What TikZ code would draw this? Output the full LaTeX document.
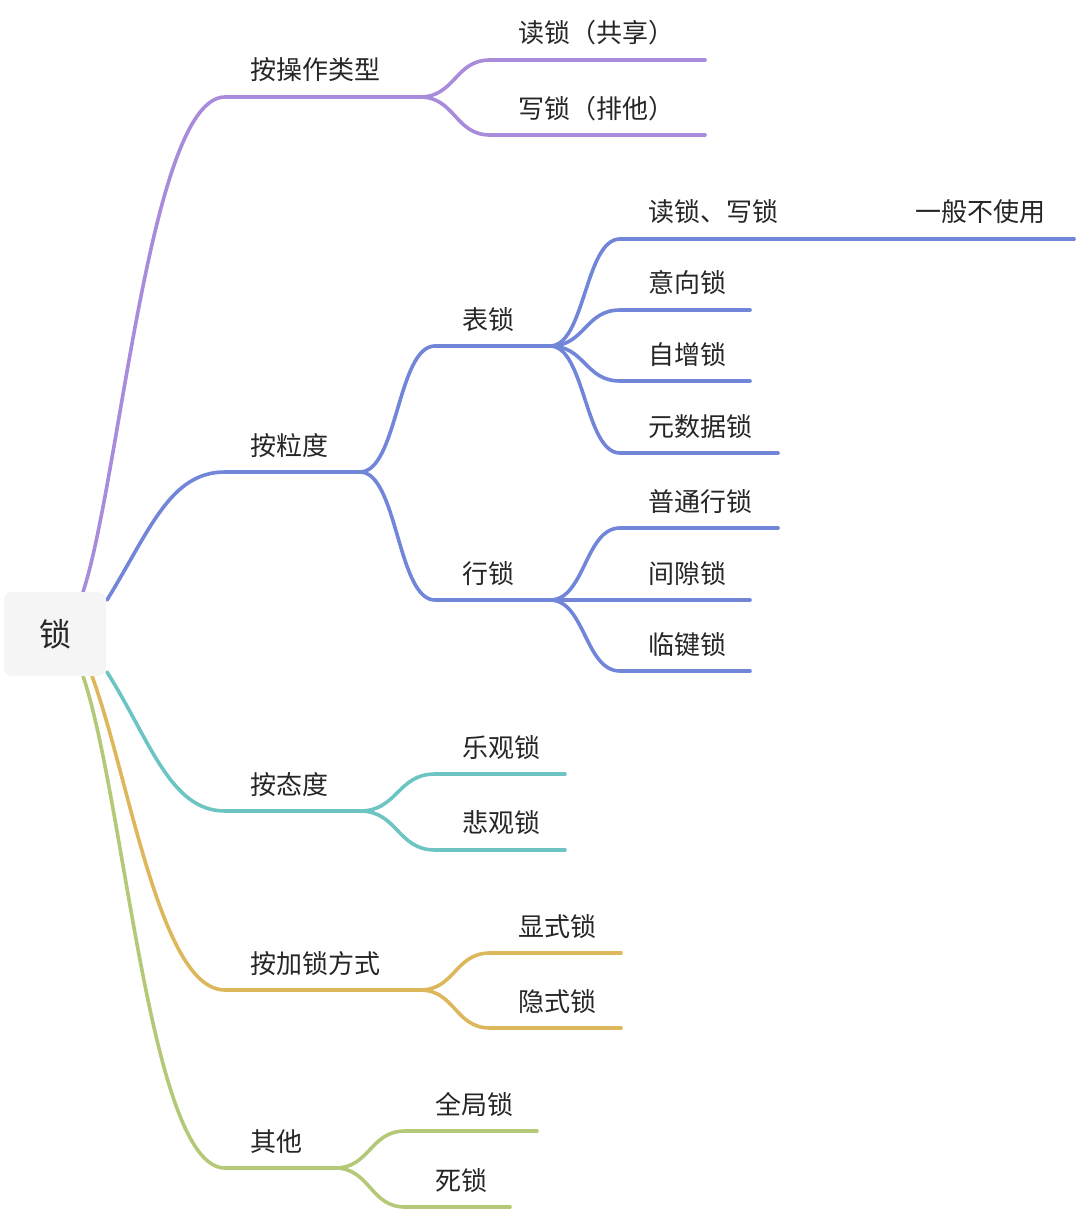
\documentclass[tikz,border=0pt]{standalone}
\usepackage{fontspec}
\setmainfont{Noto Sans CJK SC}
\begin{document}
\begin{tikzpicture}[x=1pt,y=-1pt,line cap=round,
  br/.style={line width=3.6pt},
  lbl/.style={anchor=base west,inner sep=0pt,font=\fontsize{26}{30}\selectfont,text=black!85}]
\definecolor{cp}{HTML}{A98BDC}
\definecolor{cb}{HTML}{7185D9}
\definecolor{ct}{HTML}{6CC4C3}
\definecolor{cg}{HTML}{DDB75C}
\definecolor{cl}{HTML}{B4C977}
\useasboundingbox (0,0) rectangle (1076,1212);
% helper: sigmoid child curves
\def\kid#1#2#3#4#5{\draw[br,#1] (#2,#3) .. controls ({(#2+#4)/2},#3) and ({(#2+#4)/2},#5) .. (#4,#5);}
% purple
\draw[br,cp] (83,592) .. controls (120,480) and (150,97) .. (225,97) -- (420,97);
\kid{cp}{420}{97}{490}{60} \draw[br,cp] (490,60) -- (705,60);
\kid{cp}{420}{97}{490}{135} \draw[br,cp] (490,135) -- (705,135);
\node[lbl] at (250,80) {按操作类型};
\node[lbl] at (518,43) {读锁（共享）};
\node[lbl] at (518,118) {写锁（排他）};
% blue
\draw[br,cb] (107,600) .. controls (150,530) and (170,472) .. (225,472) -- (360,472);
\kid{cb}{360}{472}{435}{346} \draw[br,cb] (435,346) -- (550,346);
\kid{cb}{360}{472}{435}{600} \draw[br,cb] (435,600) -- (550,600);
\node[lbl] at (250,455) {按粒度};
\node[lbl] at (462,329) {表锁};
\node[lbl] at (462,583) {行锁};
\kid{cb}{550}{346}{620}{239} \draw[br,cb] (620,239) -- (1074,239);
\kid{cb}{550}{346}{620}{310} \draw[br,cb] (620,310) -- (750,310);
\kid{cb}{550}{346}{620}{381} \draw[br,cb] (620,381) -- (750,381);
\kid{cb}{550}{346}{620}{453} \draw[br,cb] (620,453) -- (778,453);
\node[lbl] at (648,221) {读锁、写锁};
\node[lbl] at (915,221) {一般不使用};
\node[lbl] at (648,292) {意向锁};
\node[lbl] at (648,364) {自增锁};
\node[lbl] at (648,436) {元数据锁};
\kid{cb}{550}{600}{620}{528} \draw[br,cb] (620,528) -- (778,528);
\draw[br,cb] (550,600) -- (750,600);
\kid{cb}{550}{600}{620}{671} \draw[br,cb] (620,671) -- (750,671);
\node[lbl] at (648,511) {普通行锁};
\node[lbl] at (648,583) {间隙锁};
\node[lbl] at (648,654) {临键锁};
% teal
\draw[br,ct] (107,672) .. controls (150,740) and (170,811) .. (225,811) -- (360,811);
\kid{ct}{360}{811}{435}{774} \draw[br,ct] (435,774) -- (565,774);
\kid{ct}{360}{811}{435}{850} \draw[br,ct] (435,850) -- (565,850);
\node[lbl] at (250,794) {按态度};
\node[lbl] at (462,757) {乐观锁};
\node[lbl] at (462,832) {悲观锁};
% gold
\draw[br,cg] (92,676) .. controls (130,780) and (160,990) .. (225,990) -- (420,990);
\kid{cg}{420}{990}{490}{953} \draw[br,cg] (490,953) -- (621,953);
\kid{cg}{420}{990}{490}{1028} \draw[br,cg] (490,1028) -- (621,1028);
\node[lbl] at (250,973) {按加锁方式};
\node[lbl] at (518,936) {显式锁};
\node[lbl] at (518,1011) {隐式锁};
% green
\draw[br,cl] (83,676) .. controls (125,800) and (150,1168) .. (225,1168) -- (335,1168);
\kid{cl}{335}{1168}{405}{1131} \draw[br,cl] (405,1131) -- (537,1131);
\kid{cl}{335}{1168}{405}{1207} \draw[br,cl] (405,1207) -- (510,1207);
\node[lbl] at (250,1151) {其他};
\node[lbl] at (435,1114) {全局锁};
\node[lbl] at (435,1190) {死锁};
% root
\node[draw=none,fill=black!4,rounded corners=8pt,minimum width=102pt,minimum height=84pt,
  font=\fontsize{32}{36}\selectfont,text=black!85] (root) at (55,634) {锁};
\end{tikzpicture}
\end{document}
